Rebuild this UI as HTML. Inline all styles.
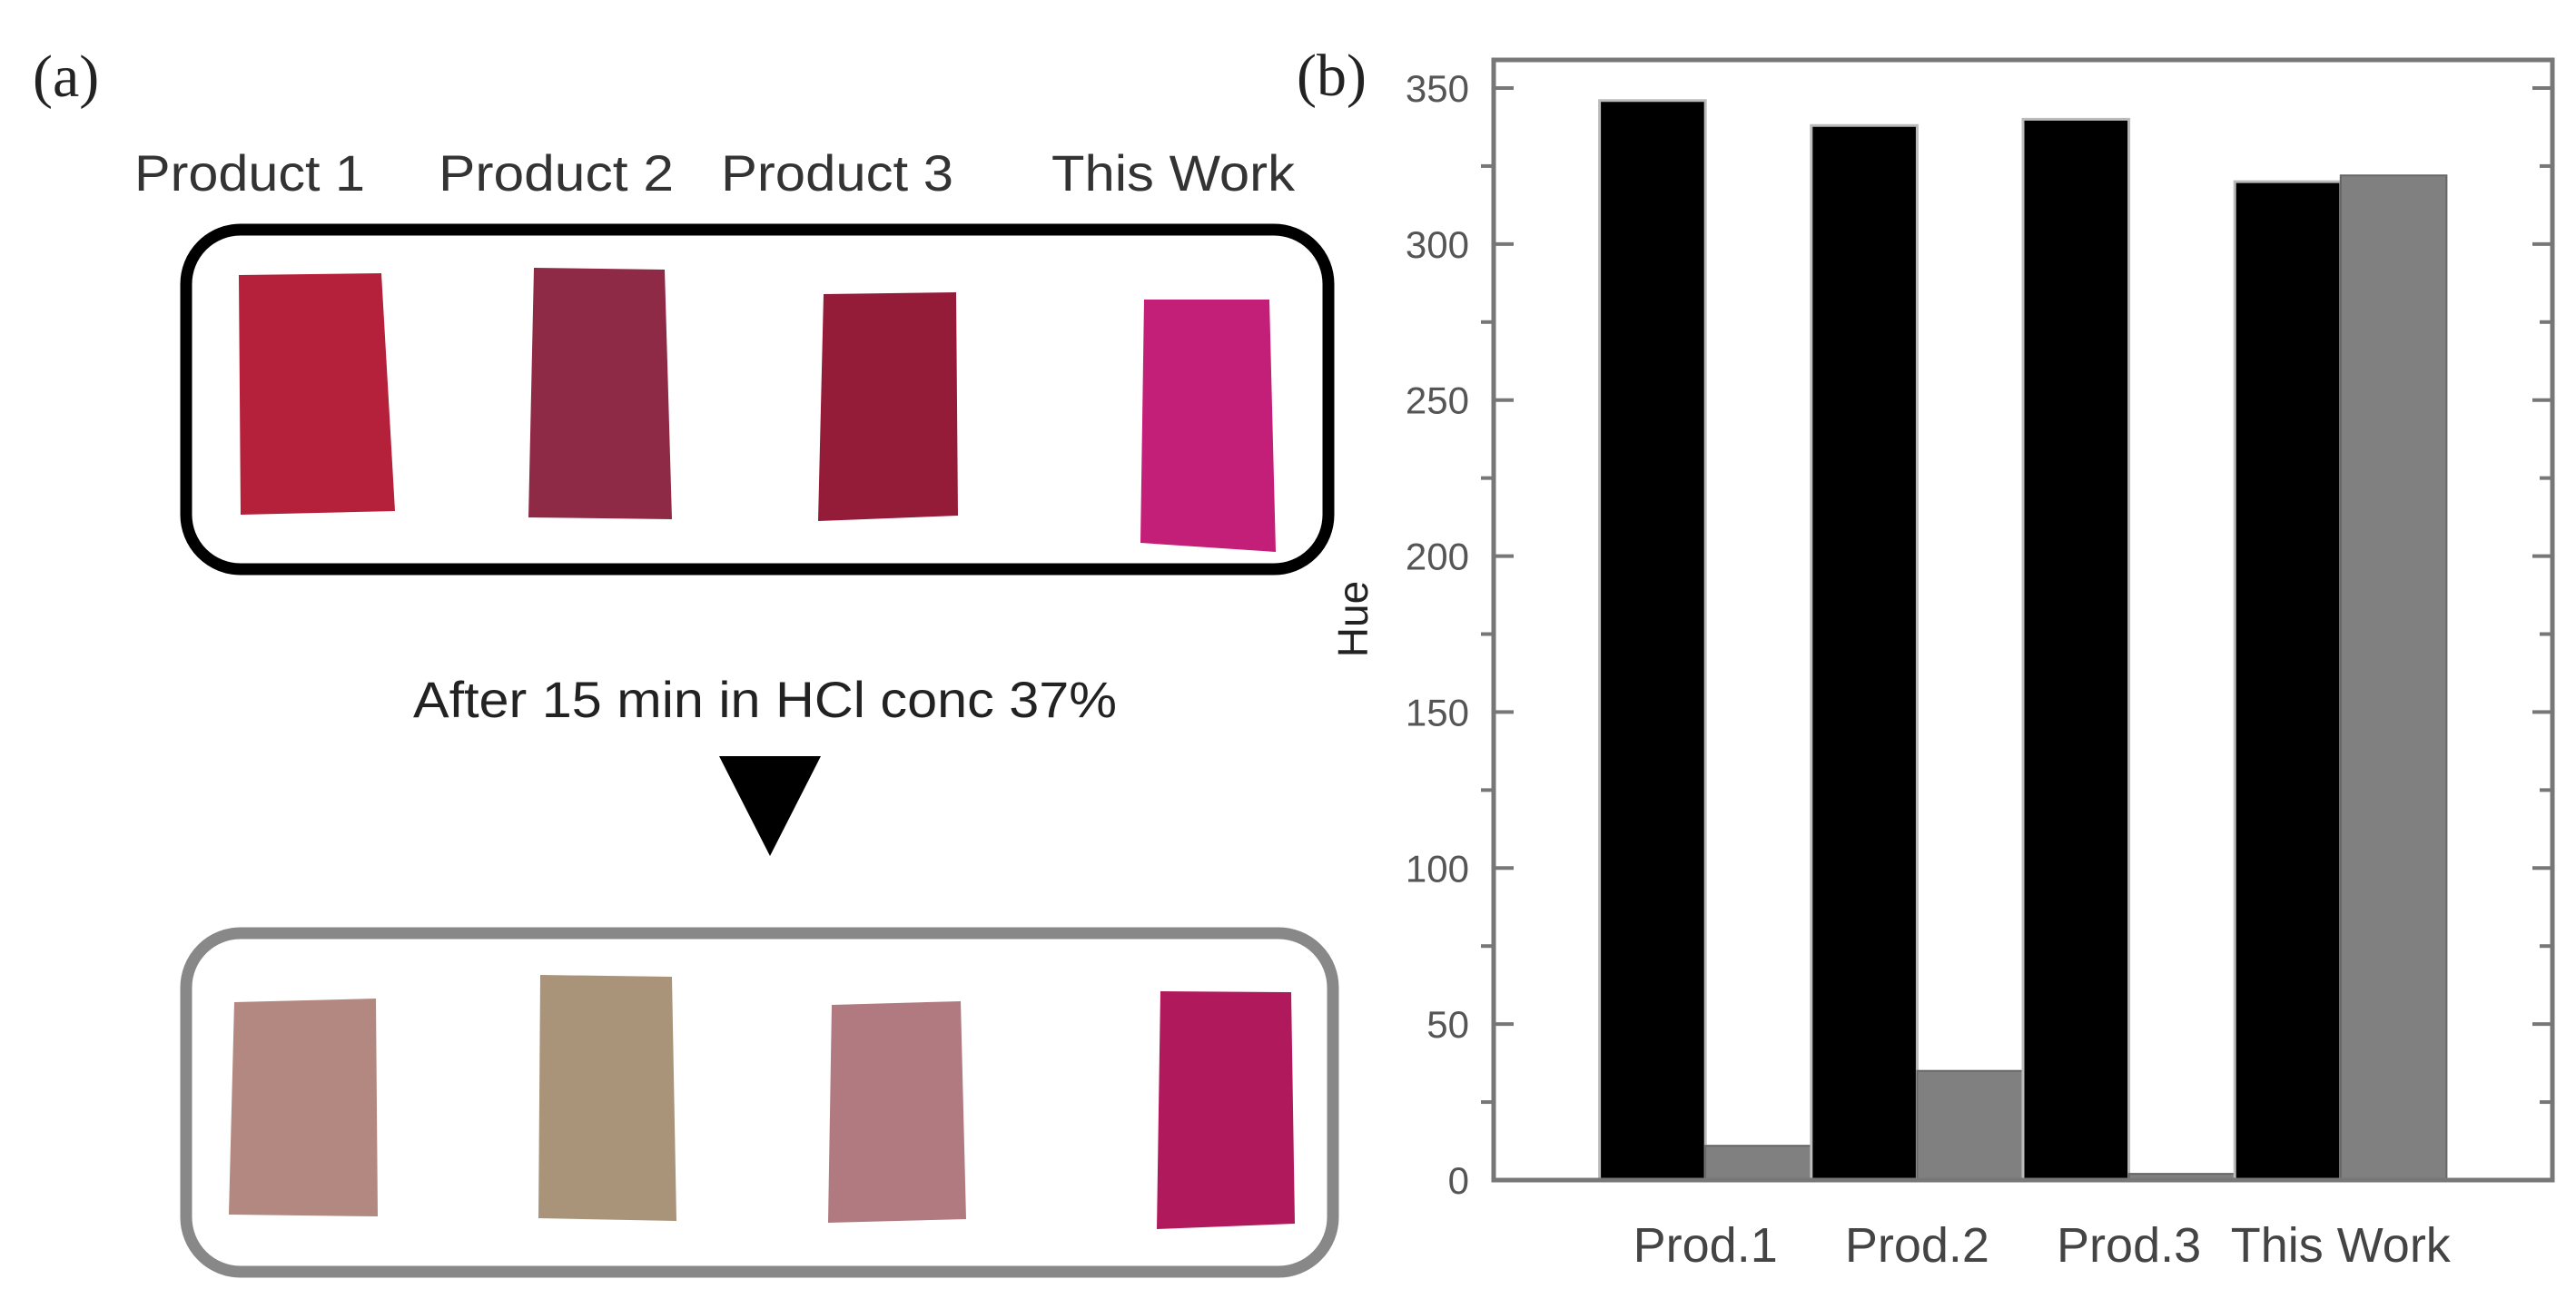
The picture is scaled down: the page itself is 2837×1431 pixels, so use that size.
<!DOCTYPE html>
<html><head><meta charset="utf-8"><style>
html,body{margin:0;padding:0;background:#fff;}
svg{display:block;}
</style></head><body>
<svg id="fig" width="2837" height="1431" viewBox="0 0 2837 1431" xmlns="http://www.w3.org/2000/svg">
<rect width="2837" height="1431" fill="#fff"/>
<g>
  <text x="36" y="106" font-family="Liberation Serif, serif" font-size="66" fill="#222">(a)</text>
  <g font-family="Liberation Sans, sans-serif" font-size="56" fill="#333">
    <text x="148" y="210" textLength="254" lengthAdjust="spacingAndGlyphs">Product 1</text>
    <text x="483" y="210" textLength="259" lengthAdjust="spacingAndGlyphs">Product 2</text>
    <text x="794" y="210" textLength="256" lengthAdjust="spacingAndGlyphs">Product 3</text>
    <text x="1158" y="210" textLength="268" lengthAdjust="spacingAndGlyphs">This Work</text>
  </g>
  <rect x="205" y="253" width="1258" height="374" rx="60" fill="none" stroke="#000" stroke-width="13"/>
  <polygon points="263,303 420,301 435,563 265,567" fill="#b5213a"/>
  <polygon points="588,295 732,297 740,572 582,570" fill="#8e2a45"/>
  <polygon points="907,324 1053,322 1055,568 901,574" fill="#951c38"/>
  <polygon points="1260,330 1398,330 1405,608 1256,598" fill="#c41f78"/>
  <text x="455" y="790" textLength="775" lengthAdjust="spacingAndGlyphs" font-family="Liberation Sans, sans-serif" font-size="56" fill="#222">After 15 min in HCl conc 37%</text>
  <polygon points="792,833 904,833 848,943" fill="#000"/>
  <rect x="205" y="1028" width="1263" height="373" rx="60" fill="none" stroke="#888" stroke-width="13"/>
  <polygon points="258,1104 414,1100 416,1340 252,1338" fill="#b38880"/>
  <polygon points="595,1074 740,1076 745,1345 593,1342" fill="#a99479"/>
  <polygon points="916,1107 1058,1103 1064,1343 912,1347" fill="#b07a80"/>
  <polygon points="1278,1092 1422,1093 1426,1348 1274,1354" fill="#b01a5c"/>
</g>
<g id="chart"></g>
</svg>
<script>
const categories = ["Prod.1","Prod.2","Prod.3","This Work"];
const beforeValues = [346, 338, 340, 320];
const afterValues = [11, 35, 2, 322];
const yTicks = [0,50,100,150,200,250,300,350];
const yMinorTicks = [25,75,125,175,225,275,325];

const NS = "http://www.w3.org/2000/svg";
const g = document.getElementById('chart');
const L = 1645, R = 2811, T = 66, B = 1300;
const yMax = 350, yTopPix = 97;
function y(v){ return B - v * (B - yTopPix) / yMax; }
function x(i){ return L + (i + 1) * (R - L) / (categories.length + 1); }
const bw = (R - L) / (categories.length + 1) / 2;
function mk(tag, attrs){ const e = document.createElementNS(NS, tag); for (const k in attrs) e.setAttribute(k, attrs[k]); g.appendChild(e); return e; }

let t = mk('text', {x:1428, y:105, 'font-family':'Liberation Serif, serif', 'font-size':66, fill:'#222'});
t.textContent = '(b)';



categories.forEach((c, i) => {
  const b1 = mk('rect', {x:x(i)-bw, y:y(beforeValues[i]), width:bw, height:B-y(beforeValues[i]), fill:'#000', stroke:'#bbb', 'stroke-width':3});
  
  
  const b2 = mk('rect', {x:x(i), y:y(afterValues[i]), width:bw, height:B-y(afterValues[i]), fill:'#808080', stroke:'#666', 'stroke-width':2});
  
  
  const lb = mk('text', {x:x(i), y:1390, 'text-anchor':'middle', 'font-family':'Liberation Sans, sans-serif', 'font-size':54, fill:'#444'});
  lb.textContent = c;
  
  
});

const frame = mk('rect', {x:L, y:T, width:R-L, height:B-T, fill:'none', stroke:'#777', 'stroke-width':5});



yTicks.forEach(v => {
  const a = mk('line', {x1:L, x2:L+22, y1:y(v), y2:y(v), stroke:'#777', 'stroke-width':4});
  
  
  const b = mk('line', {x1:R, x2:R-22, y1:y(v), y2:y(v), stroke:'#777', 'stroke-width':4});
  
  
  const lb = mk('text', {x:1618, y:y(v)+15, 'text-anchor':'end', 'font-family':'Liberation Sans, sans-serif', 'font-size':42, fill:'#555'});
  lb.textContent = v;
  
  
});
yMinorTicks.forEach(v => {
  const a = mk('line', {x1:L-14, x2:L, y1:y(v), y2:y(v), stroke:'#777', 'stroke-width':4});
  
  
  const b = mk('line', {x1:R, x2:R-14, y1:y(v), y2:y(v), stroke:'#777', 'stroke-width':4});
  
  
});
const yt = mk('text', {x:0, y:0, transform:'translate(1506,682) rotate(-90)', 'text-anchor':'middle', 'font-family':'Liberation Sans, sans-serif', 'font-size':46, fill:'#222'});
yt.textContent = 'Hue';


</script>
</body></html>
